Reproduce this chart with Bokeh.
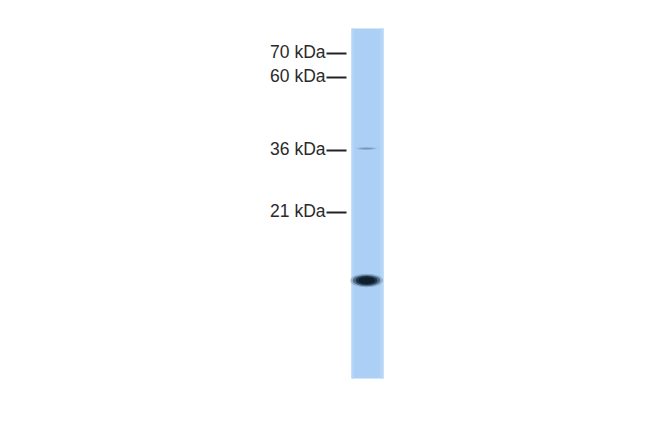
from bokeh.plotting import figure
from bokeh.models import Range1d, ColumnDataSource
from bokeh.core.properties import value
from bokeh.embed import file_html
from bokeh.resources import INLINE

# marker ladder: label and migration position (px from top of picture)
marker_labels = ["70 kDa", "60 kDa", "36 kDa", "21 kDa"]
marker_pos = [53, 77, 150, 212]

# lane extent (migration, px)
lane_top = 28
lane_bottom = 378

# detected bands: position, width, height, intensity
band_pos = [280, 148]
band_width = [22, 16]
band_height = [9, 2]
band_alpha = [1.0, 0.15]

W, H = 634, 416
p = figure(width=W, height=H, output_backend="svg", toolbar_location=None,
           x_range=Range1d(0, W), y_range=Range1d(H, 0),
           min_border=0, outline_line_color=None)
p.axis.visible = False
p.grid.visible = False
p.background_fill_color = "white"
p.border_fill_color = "white"

# lane
lane_x = 367
p.quad(left=[lane_x - 16], right=[lane_x + 16], top=[lane_top], bottom=[lane_bottom],
       fill_color="#abcff5", line_color=None)
# slightly lighter edges
p.quad(left=[lane_x - 16, lane_x + 13], right=[lane_x - 14, lane_x + 16],
       top=[lane_top] * 2, bottom=[lane_bottom] * 2,
       fill_color="#b8d7f7", line_color=None)

# bands with soft edges
for pos, w, h, a in zip(band_pos, band_width, band_height, band_alpha):
    for k, s in enumerate([1.5, 1.25, 1.0, 0.75]):
        p.ellipse(x=[lane_x - 1], y=[pos], width=[w * s], height=[h * s],
                  fill_color="#0d1e2c", fill_alpha=a * (0.2 + 0.25 * k), line_color=None)

# marker ladder
src = ColumnDataSource(dict(label=marker_labels, y=marker_pos,
                            x0=[326] * 4, x1=[346] * 4, tx=[325] * 4))
p.segment(x0="x0", y0="y", x1="x1", y1="y", source=src, line_color="#222222", line_width=1.8)
p.text(x="tx", y="y", text="label", source=src, text_align="right", text_baseline="alphabetic",
       y_offset=-2, text_font_size="17.5px", text_font=value("Liberation Sans"),
       text_color="#2a2a2a")

open("out.html", "w").write(file_html(p, INLINE))
